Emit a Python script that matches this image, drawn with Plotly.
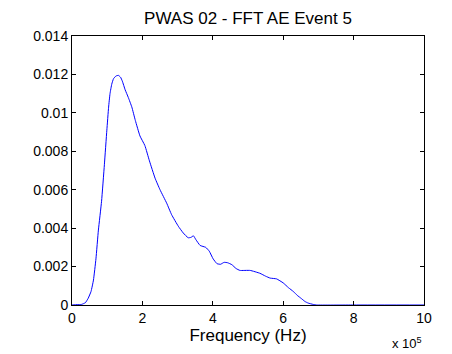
import plotly.graph_objects as go

# Frequency in units of 1e5 Hz, amplitude values
freq_e5 = [0, 0.15, 0.27, 0.38, 0.46, 0.54, 0.61, 0.68, 0.75, 0.84, 0.92, 0.99, 1.04, 1.08,
           1.13, 1.18, 1.25, 1.32, 1.38, 1.43, 1.51, 1.60, 1.70, 1.80, 1.93, 2.07, 2.20,
           2.36, 2.50, 2.69, 2.83, 3.02, 3.16, 3.30, 3.38, 3.45, 3.52, 3.64, 3.80, 3.90,
           4.01, 4.12, 4.22, 4.32, 4.42, 4.54, 4.66, 4.77, 5.06, 5.34, 5.50, 5.63, 5.81,
           6.00, 6.15, 6.29, 6.40, 6.52, 6.62, 6.71, 6.85, 6.95, 8.0, 10.0]
amplitude = [0, 0.00002, 0.00003, 0.00012, 0.00035, 0.0007, 0.0013, 0.0024, 0.0039, 0.0054,
             0.0073, 0.0091, 0.0103, 0.0110, 0.0115, 0.01178, 0.01192, 0.01195, 0.01185,
             0.01165, 0.0112, 0.0108, 0.0103, 0.0096, 0.0088, 0.0083, 0.0075, 0.0066, 0.0060,
             0.0053, 0.0047, 0.0041, 0.00375, 0.0035, 0.00352, 0.0036, 0.0034, 0.0031, 0.0030,
             0.0028, 0.0024, 0.00215, 0.00212, 0.00222, 0.0022, 0.0021, 0.0019, 0.0018,
             0.0018, 0.00165, 0.0015, 0.0014, 0.00136, 0.00115, 0.0009, 0.0007, 0.0005,
             0.00033, 0.00018, 0.0001, 0.00003, 0.0, 0.0, 0.0]
freq_hz = [f * 1e5 for f in freq_e5]

x_tickvals = [0, 2e5, 4e5, 6e5, 8e5, 10e5]
x_ticktext = ["0", "2", "4", "6", "8", "10"]
y_tickvals = [0, 0.002, 0.004, 0.006, 0.008, 0.01, 0.012, 0.014]
y_ticktext = ["0", "0.002", "0.004", "0.006", "0.008", "0.01", "0.012", "0.014"]

FONT = "Liberation Sans, Arial, sans-serif"

fig = go.Figure()
fig.add_trace(go.Scatter(x=freq_hz, y=amplitude, mode="lines",
                         line=dict(color="#0000ff", width=1, shape="spline", smoothing=0.4),
                         showlegend=False, hoverinfo="skip"))

axis_common = dict(showgrid=False, zeroline=False, showline=True, linecolor="black",
                   linewidth=1, mirror="ticks", ticks="inside", ticklen=4,
                   tickcolor="black", tickwidth=1,
                   tickfont=dict(family=FONT, size=14, color="black"))

fig.update_layout(
    width=452, height=354,
    margin=dict(l=72, r=28, t=36, b=49),
    paper_bgcolor="white", plot_bgcolor="white",
    font=dict(family=FONT, size=14, color="black"),
    title=dict(text="PWAS 02 - FFT AE Event 5", x=248 / 452, xanchor="center",
               y=0.95, yanchor="middle", font=dict(family=FONT, size=17, color="black")),
    xaxis=dict(range=[0, 1e6], tickvals=x_tickvals, ticktext=x_ticktext,
               title=dict(text="Frequency (Hz)", font=dict(family=FONT, size=17, color="black"),
                          standoff=1),
               **axis_common),
    yaxis=dict(range=[0, 0.014], tickvals=y_tickvals, ticktext=y_ticktext, **axis_common),
    annotations=[dict(text="x 10<sup>5</sup>", xref="paper", yref="paper", x=1.0, y=-0.104,
                      xanchor="right", yanchor="top", showarrow=False,
                      font=dict(family=FONT, size=13, color="black"))],
)

fig.write_html("out.html")
